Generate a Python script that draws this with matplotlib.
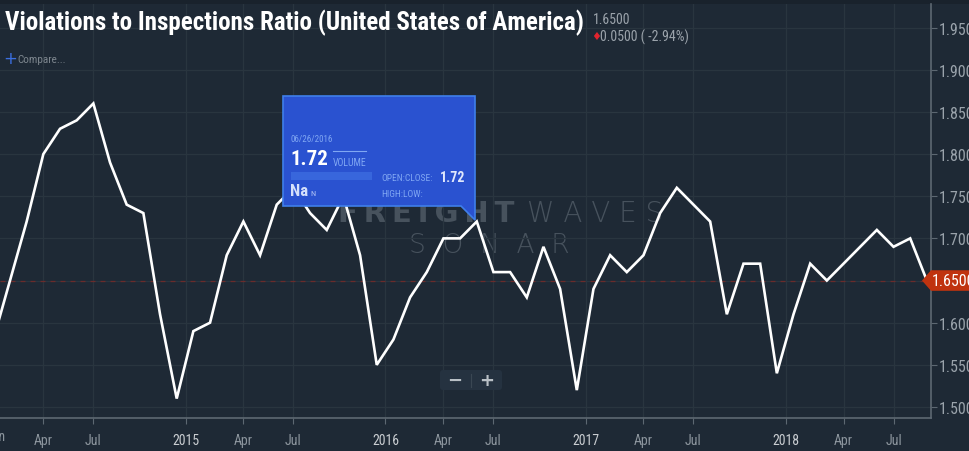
import matplotlib
matplotlib.use("Agg")
import matplotlib.pyplot as plt
from matplotlib import font_manager
from matplotlib.patches import Polygon, FancyBboxPatch, Rectangle
import matplotlib.transforms as mtransforms

# violations / inspections ratio, one point per month, Jan 2014 .. Sep 2018
ratio_2014 = [1.58, 1.65, 1.72, 1.80, 1.83, 1.84, 1.86, 1.79, 1.74, 1.73, 1.61, 1.51]
ratio_2015 = [1.59, 1.60, 1.68, 1.72, 1.68, 1.74, 1.76, 1.73, 1.71, 1.75, 1.68, 1.55]
ratio_2016 = [1.58, 1.63, 1.66, 1.70, 1.70, 1.72, 1.66, 1.66, 1.63, 1.69, 1.64, 1.52]
ratio_2017 = [1.64, 1.68, 1.66, 1.68, 1.73, 1.76, 1.74, 1.72, 1.61, 1.67, 1.67, 1.54]
ratio_2018 = [1.61, 1.67, 1.65, 1.67, 1.69, 1.71, 1.69, 1.70, 1.65]
ratio = ratio_2014 + ratio_2015 + ratio_2016 + ratio_2017 + ratio_2018
idx = list(range(len(ratio)))

tick_labels = ["Apr", "Jul", "2015", "Apr", "Jul", "2016", "Apr", "Jul",
               "2017", "Apr", "Jul", "2018", "Apr", "Jul"]
tick_pos = [3, 6, 11.53, 15, 18, 23.52, 27, 30, 35.54, 39, 42, 47.53, 51, 54]
y_ticks = [1.50, 1.55, 1.60, 1.65, 1.70, 1.75, 1.80, 1.85, 1.90, 1.95]

last = ratio[-1]
prev = ratio[-2]
tip_idx = 29  # 06/26/2016

names = {f.name for f in font_manager.fontManager.ttflist}
font = "Roboto"
for cand in ["Roboto Condensed", "Liberation Sans Narrow"]:
    if cand in names:
        font = cand
        break
plt.rcParams["font.family"] = [font, "DejaVu Sans"]

bg = "#1e2935"
grid = "#29353f"
axis_col = "#5d6872"

fig = plt.figure(figsize=(9.7, 4.52), dpi=100, facecolor=bg)
W, H = 970, 452
ax = fig.add_axes([0, (H - 418.7) / H, 930.7 / W, (418.7 - 5) / H])
ax.set_facecolor(bg)

# overlay in pixel coordinates for the page furniture
ov = fig.add_axes([0, 0, 1, 1], zorder=5)
ov.set_xlim(0, W)
ov.set_ylim(H, 0)
ov.axis("off")
ov.patch.set_alpha(0)
fig.add_artist(Rectangle((0, (H - 5) / H), 1, 5 / H, transform=fig.transFigure,
                         fc="#19222c", ec="none", zorder=0))

ax.plot(idx, ratio, color="white", lw=1.9, zorder=4, solid_joinstyle="miter")
ax.axhline(last, color="#6b2b2b", lw=0.9, ls=(0, (4, 4)), zorder=2)

ax.set_xticks(tick_pos)
ax.set_xticklabels(tick_labels)
ax.set_yticks(y_ticks)
ax.set_yticklabels([f"{v:.4f}" if v != last else "" for v in y_ticks])
ax.set_xlim(0.4, 56.23)
ax.set_ylim(1.4873, 1.978)
ax.yaxis.tick_right()
ax.grid(True, color=grid, lw=0.9, zorder=0)
for s in ["top", "left"]:
    ax.spines[s].set_visible(False)
for s in ["bottom", "right"]:
    ax.spines[s].set_color(axis_col)
    ax.spines[s].set_linewidth(1.2)
ax.tick_params(axis="x", colors=axis_col, labelcolor="#8c959d", length=4,
               labelsize=10, pad=7)
ax.tick_params(axis="y", colors=axis_col, labelcolor="#9aa3ab", length=4,
               labelsize=11.5, pad=2)
for lab in ax.get_xticklabels():
    if lab.get_text().isdigit():
        lab.set_color("#c9cdd1")

# "Jan" 2014 sits just left of the visible range, only its tail shows
jan_tr = ax.get_xaxis_transform() + mtransforms.ScaledTranslation(0, -11 / 100,
                                                                  fig.dpi_scale_trans)
ax.text(0.15, 0, "Jan", transform=jan_tr, color="#8c959d", fontsize=10,
        ha="center", va="top", clip_on=False)

# watermark
wm = "#47525d"
ts = "\u2009"
ax.text(338, 214, ts.join("FREIGHT"), transform=ov.transData, color=wm,
        fontsize=21, fontweight="heavy", family="DejaVu Sans", va="center",
        ha="left", zorder=1)
ax.text(663, 214, " ".join("WAVES"), transform=ov.transData, color=wm, fontsize=20,
        fontweight="light", family="DejaVu Sans", va="center", ha="right", zorder=1)
ax.text(489, 246, "S  O  N  A  R", transform=ov.transData, color=wm, fontsize=19,
        fontweight="light", family="DejaVu Sans", va="center", ha="center", zorder=1)

# tooltip
tip = Polygon([(283, 97), (475, 97), (475, 221), (461, 207), (283, 207)],
              closed=True, fc="#2a52d0", ec="#3f7fea", lw=1.2)
ov.add_patch(tip)
blue_txt = "#80a7f3"
ov.text(291, 140, "06/26/2016", color=blue_txt, fontsize=6.5, va="center")
ov.text(290, 160, f"{ratio[tip_idx]:.2f}", color="white", fontsize=15,
        fontweight="bold", va="center")
ov.plot([333, 366], [152, 152], color=blue_txt, lw=0.8)
ov.text(333, 163, "VOLUME", color=blue_txt, fontsize=7, va="center")
ov.add_patch(Rectangle((291, 173), 81, 8, fc="#3866dc", ec="none"))
ov.text(290, 192, "Na", color="#d5e0fb", fontsize=12, fontweight="bold", va="center")
ov.text(310, 194, "N", color="#b6c8f6", fontsize=6, va="center")
ov.text(381, 179, "OPEN:CLOSE:", color=blue_txt, fontsize=6.8, va="center")
ov.text(440, 178, f"{ratio[tip_idx]:.2f}", color="#e0e8fc", fontsize=10,
        fontweight="bold", va="center")
ov.text(381, 195, "HIGH:LOW:", color=blue_txt, fontsize=6.8, va="center")

# zoom control
ov.add_patch(FancyBboxPatch((440, 371), 62, 20, boxstyle="round,pad=0,rounding_size=3",
                            fc="#253240", ec="none"))
ov.plot([471, 471], [375, 388], color="#3a4753", lw=0.8)
ov.text(455, 381, "\u2212", color="#b9c0c6", fontsize=13, fontweight="bold",
        ha="center", va="center", family="DejaVu Sans")
ov.text(487, 381, "+", color="#b9c0c6", fontsize=13, fontweight="bold",
        ha="center", va="center", family="DejaVu Sans")

# last value tag on the right axis
blend = mtransforms.blended_transform_factory(ov.transData, ax.transData)
dy = 0.0122
tag = Polygon([(922, last), (931, last + dy), (975, last + dy), (975, last - dy),
               (931, last - dy)], closed=True, transform=blend, fc="#c0330f",
              ec="none", clip_on=False, zorder=6)
fig.add_artist(tag)
tag_txt = fig.text(0, 0, f"{last:.4f}", transform=blend, color="white",
                   fontsize=11.5, va="center", ha="left", zorder=7)
tag_txt.set_position((932, last))

# header
title = ov.text(5, 23, "Violations to Inspections Ratio (United States of America)",
                color="white", fontsize=20, fontweight="bold", va="center")
fig.canvas.draw()
bb = title.get_window_extent()
title.set_fontsize(20 * 578 / bb.width)
ov.text(593, 20, f"{last:.4f}", color="#9ba3ab", fontsize=10, va="center")
ov.text(591, 37, "\u2666", color="#e0242e", fontsize=8, va="center",
        family="DejaVu Sans")
chg = last - prev
ov.text(600, 37, f"{abs(chg):.4f} ( {chg / prev * 100:.2f}%)", color="#9ba3ab",
        fontsize=10, va="center")
ov.text(3, 59, "+", color="#3b6fe0", fontsize=12, va="center", family="DejaVu Sans")
ov.text(17, 60, "Compare...", color="#7d868e", fontsize=8, va="center")

fig.savefig("out.png", dpi=100, facecolor=bg)
